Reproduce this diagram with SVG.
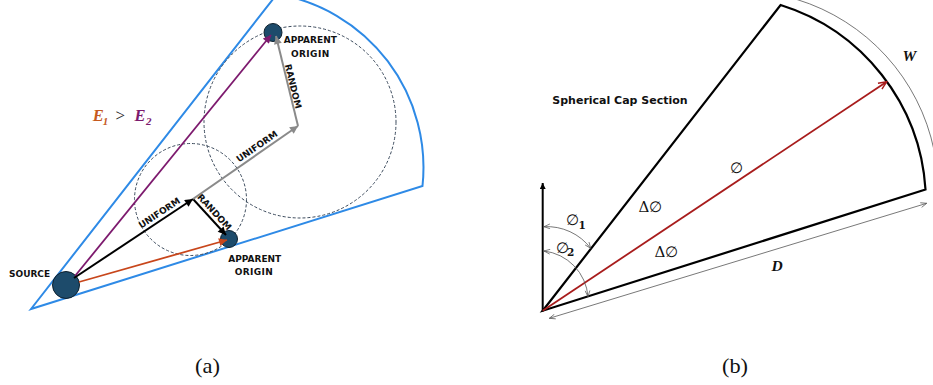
<svg xmlns="http://www.w3.org/2000/svg" width="933" height="385" viewBox="0 0 933 385">
<style>
.lbl{font-family:"DejaVu Sans","Liberation Sans",sans-serif;font-weight:bold;font-size:9px;fill:#111}
.node{fill:#1d4b6b;stroke:#0d1f2c;stroke-width:1}
.dash{fill:none;stroke:#3b4a5c;stroke-width:1;stroke-dasharray:3 2}
.math{font-family:"DejaVu Serif","Liberation Serif",serif;fill:#111}
.bi{font-family:"Liberation Serif","Times New Roman",serif;font-weight:bold;font-style:italic}
.thin{fill:none;stroke:#555;stroke-width:0.8}
.cap{font-family:"Liberation Serif","Times New Roman",serif;font-size:21px;fill:#111}
</style>
<defs>
<marker id="mBlack" markerUnits="userSpaceOnUse" viewBox="0 0 10 10" refX="10" refY="5" markerWidth="9" markerHeight="8" orient="auto"><path d="M0,0 L10,5 L0,10 z" fill="#000"/></marker>
<marker id="mGray" markerUnits="userSpaceOnUse" viewBox="0 0 10 10" refX="10" refY="5" markerWidth="9" markerHeight="8" orient="auto"><path d="M0,0 L10,5 L0,10 z" fill="#8a8a8a"/></marker>
<marker id="mPurple" markerUnits="userSpaceOnUse" viewBox="0 0 10 10" refX="10" refY="5" markerWidth="9" markerHeight="8" orient="auto"><path d="M0,0 L10,5 L0,10 z" fill="#7d1a6e"/></marker>
<marker id="mOrange" markerUnits="userSpaceOnUse" viewBox="0 0 10 10" refX="10" refY="5" markerWidth="9" markerHeight="8" orient="auto"><path d="M0,0 L10,5 L0,10 z" fill="#c8461b"/></marker>
<marker id="mAxis" markerUnits="userSpaceOnUse" viewBox="0 0 10 10" refX="10" refY="5" markerWidth="7" markerHeight="6" orient="auto"><path d="M0,0 L10,5 L0,10 z" fill="#000"/></marker>
<marker id="mRed" markerUnits="userSpaceOnUse" viewBox="0 0 10 10" refX="10" refY="5" markerWidth="11" markerHeight="9" orient="auto"><path d="M1,1 L10,5 L1,9" fill="none" stroke="#a81c1c" stroke-width="1.6"/></marker>
<marker id="mThin" markerUnits="userSpaceOnUse" viewBox="0 0 10 10" refX="10" refY="5" markerWidth="7" markerHeight="6" orient="auto-start-reverse"><path d="M0,1 L10,5 L0,9" fill="none" stroke="#555" stroke-width="1.2"/></marker>
</defs>
<rect width="933" height="385" fill="#fff"/>

<!-- Panel (a) -->
<g id="cone">
<path d="M31,309 L277,-6 A176 176 0 0 1 422.5,186 Z" fill="none" stroke="#2e8ae6" stroke-width="2" stroke-linejoin="miter"/>
</g>
<g id="circles">
<circle class="dash" cx="190.5" cy="199.5" r="56"/>
<circle class="dash" cx="300" cy="122" r="96"/>
</g>
<g id="source">
<circle class="node" cx="66" cy="285" r="13.5"/>
<text class="lbl" x="9" y="277" font-size="9.4">SOURCE</text>
</g>
<g id="origin-low">
<circle class="node" cx="229" cy="239" r="8.5"/>
<text class="lbl" x="254.7" y="261.7" text-anchor="middle">APPARENT</text>
<text class="lbl" x="254" y="275" text-anchor="middle" letter-spacing="0.4">ORIGIN</text>
</g>
<g id="origin-high">
<circle class="node" cx="273" cy="32.5" r="9"/>
<text class="lbl" x="310.3" y="43" text-anchor="middle">APPARENT</text>
<text class="lbl" x="310.3" y="56.7" text-anchor="middle" letter-spacing="0.4">ORIGIN</text>
</g>
<g id="energy">
<text class="bi" x="92.7" y="121" font-size="16.5" fill="#c65a1e">E</text>
<text class="bi" x="102.7" y="124.5" font-size="11" fill="#c65a1e">1</text>
<text x="115.5" y="121" font-family="Liberation Serif,serif" font-size="17" fill="#222">&gt;</text>
<text class="bi" x="134.5" y="121" font-size="16.5" fill="#7d1a6e">E</text>
<text class="bi" x="146" y="124.5" font-size="11" fill="#7d1a6e">2</text>
</g>
<g id="connectors-a">
<line x1="75" y1="276" x2="271" y2="35" stroke="#7d1a6e" stroke-width="1.8" marker-end="url(#mPurple)"/>
<line x1="79" y1="282" x2="227" y2="240" stroke="#c8461b" stroke-width="1.8" marker-end="url(#mOrange)"/>
<line x1="74" y1="278" x2="193" y2="199" stroke="#000" stroke-width="2" marker-end="url(#mBlack)"/>
<line x1="193" y1="199" x2="226" y2="235" stroke="#000" stroke-width="2" marker-end="url(#mBlack)"/>
<line x1="193" y1="199" x2="298" y2="126" stroke="#8a8a8a" stroke-width="2" marker-end="url(#mGray)"/>
<line x1="298" y1="126" x2="276" y2="36" stroke="#8a8a8a" stroke-width="2" marker-end="url(#mGray)"/>
<text class="lbl" font-size="8.8" text-anchor="middle" transform="translate(163,218.5) rotate(-33.6)" y="-3.5">UNIFORM</text>
<text class="lbl" font-size="8.7" text-anchor="middle" transform="translate(209.3,216.7) rotate(47.4)" y="-3.8">RANDOM</text>
<text class="lbl" font-size="8.8" text-anchor="middle" transform="translate(260.9,152.1) rotate(-34.7)" y="-3.8">UNIFORM</text>
<text class="lbl" font-size="8.7" text-anchor="middle" transform="translate(288.7,87.5) rotate(76.4)" y="-1.5">RANDOM</text>
</g>

<!-- Panel (b) -->
<g id="cap-section">
<path d="M542.7,310.7 L780.6,5 A207 207 0 0 1 925.5,189.5 Z" fill="none" stroke="#000" stroke-width="2.2" stroke-linejoin="miter"/>
<text x="552.3" y="104" font-family="DejaVu Sans,Liberation Sans,sans-serif" font-weight="bold" font-size="11" fill="#111">Spherical Cap Section</text>
</g>
<g id="connectors-b">
<line x1="542.7" y1="311.5" x2="542.7" y2="183" stroke="#000" stroke-width="2" marker-end="url(#mAxis)"/>
<line x1="542.7" y1="310.7" x2="886.7" y2="81.7" stroke="#a81c1c" stroke-width="1.8" marker-end="url(#mRed)"/>
<path class="thin" d="M797,-0.5 A200 200 0 0 1 934,150"/>
<line class="thin" x1="549.3" y1="318.3" x2="926.7" y2="203.3" marker-start="url(#mThin)" marker-end="url(#mThin)"/>
<path class="thin" d="M544,226.7 A55 55 0 0 1 590.7,248.3" marker-start="url(#mThin)" marker-end="url(#mThin)"/>
<path class="thin" d="M544,251 A50 50 0 0 1 588,296.6" marker-start="url(#mThin)" marker-end="url(#mThin)"/>
</g>
<g id="labels-b">
<text class="bi" x="902.5" y="60.7" font-size="15.5" fill="#111">W</text>
<text class="bi" x="771.5" y="270.7" font-size="15.5" fill="#111">D</text>
<text class="math" x="736.5" y="172.7" font-size="15" text-anchor="middle">∅</text>
<text class="math" x="638.5" y="211.5" font-size="15">Δ∅</text>
<text class="math" x="654.5" y="256.5" font-size="15">Δ∅</text>
<text class="math" x="566" y="225" font-size="15">∅</text>
<text class="math" x="578.5" y="228.6" font-size="10.5" font-weight="bold">1</text>
<text class="math" x="555.5" y="253" font-size="15">∅</text>
<text class="math" x="567" y="256" font-size="10.5" font-weight="bold">2</text>
</g>

<!-- Captions -->
<text class="cap" x="207.5" y="373" text-anchor="middle" textLength="25" lengthAdjust="spacingAndGlyphs">(a)</text>
<text class="cap" x="735" y="373" text-anchor="middle" textLength="26" lengthAdjust="spacingAndGlyphs">(b)</text>
</svg>
